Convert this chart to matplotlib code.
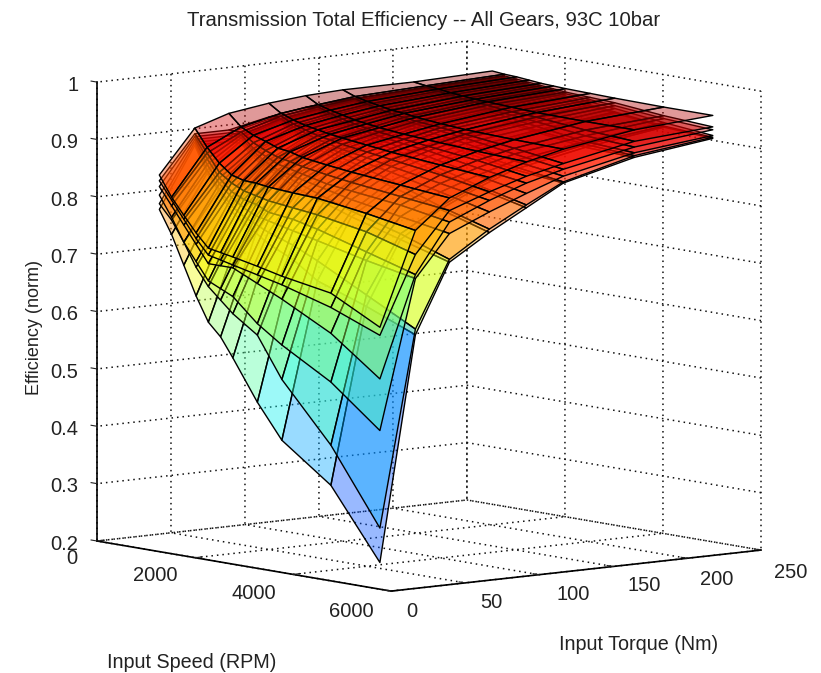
import numpy as np
import matplotlib
matplotlib.use('Agg')
import matplotlib.pyplot as plt
from mpl_toolkits.mplot3d import proj3d

speeds = [1000, 1250, 1500, 1750, 2000, 2250, 2500, 3000, 3500, 4500, 5500]
torques = [9, 33, 56, 83, 108, 133, 181, 234]
speed_ticks = [0, 2000, 4000, 6000]
torque_ticks = [0, 50, 100, 150, 200, 250]
eff_ticks = [0.2, 0.3, 0.4, 0.5, 0.6, 0.7, 0.8, 0.9, 1.0]
eff_labels = ['0.2', '0.3', '0.4', '0.5', '0.6', '0.7', '0.8', '0.9', '1']

# one row per torque, one column per speed
gear_a = [[.790, .75, .70, .65, .608, .586, .553, .483, .424, .36, .24],
          [.895, .85, .82, .79, .775, .76, .745, .725, .695, .665, .63],
          [.895, .895, .875, .86, .85, .84, .83, .815, .80, .775, .75],
          [.915, .922, .908, .898, .89, .88, .872, .86, .845, .82, .794],
          [.925, .932, .922, .912, .905, .898, .892, .882, .87, .85, .83],
          [.932, .94, .932, .925, .92, .914, .908, .90, .89, .875, .866],
          [.940, .948, .943, .938, .933, .929, .925, .918, .912, .90, .897],
          [.945, .953, .951, .948, .945, .942, .939, .934, .93, .92, .915]]
gear_b = [[.800, .775, .74, .70, .67, .65, .63, .60, .53, .43, .30],
          [.900, .855, .825, .80, .785, .775, .765, .75, .73, .685, .64],
          [.900, .90, .88, .865, .855, .848, .84, .825, .81, .785, .755],
          [.918, .925, .912, .902, .895, .888, .88, .868, .855, .825, .80],
          [.928, .935, .925, .916, .91, .904, .898, .888, .878, .855, .835],
          [.935, .942, .935, .928, .922, .918, .913, .905, .896, .88, .868],
          [.942, .95, .945, .94, .936, .932, .928, .922, .915, .905, .90],
          [.947, .954, .952, .949, .947, .944, .941, .937, .932, .922, .917]]
gear_c = [[.815, .78, .74, .71, .68, .67, .66, .62, .59, .54, .47],
          [.905, .865, .835, .815, .80, .79, .785, .775, .765, .745, .728],
          [.905, .905, .885, .87, .86, .855, .85, .84, .83, .815, .80],
          [.922, .928, .915, .906, .90, .893, .888, .878, .87, .85, .83],
          [.932, .938, .928, .92, .914, .91, .905, .897, .89, .872, .855],
          [.938, .945, .938, .932, .927, .923, .919, .912, .906, .89, .878],
          [.944, .952, .948, .944, .94, .937, .934, .928, .922, .91, .905],
          [.949, .957, .955, .952, .95, .948, .945, .942, .938, .928, .92]]
gear_d = [[.830, .80, .77, .74, .71, .71, .71, .69, .67, .625, .56],
          [.910, .875, .845, .825, .815, .81, .80, .795, .785, .76, .735],
          [.910, .91, .89, .88, .87, .865, .86, .85, .845, .835, .82],
          [.926, .93, .92, .912, .905, .90, .895, .888, .88, .865, .85],
          [.936, .94, .932, .925, .92, .915, .911, .905, .90, .885, .873],
          [.941, .948, .942, .936, .932, .928, .925, .92, .915, .902, .89],
          [.946, .955, .951, .947, .944, .941, .938, .934, .93, .92, .915],
          [.951, .959, .957, .955, .953, .951, .949, .946, .943, .935, .93]]
gear_e = [[.84, .81, .78, .75, .725, .72, .715, .705, .695, .67, .636],
          [.915, .885, .855, .84, .83, .825, .82, .815, .81, .795, .77],
          [.915, .915, .90, .89, .882, .878, .873, .866, .86, .85, .84],
          [.93, .935, .925, .918, .912, .908, .904, .898, .892, .88, .865],
          [.94, .944, .936, .93, .925, .921, .918, .913, .908, .898, .885],
          [.945, .951, .945, .94, .936, .933, .93, .926, .922, .912, .90],
          [.95, .957, .954, .951, .948, .946, .944, .94, .938, .93, .925],
          [.955, .962, .96, .958, .956, .954, .952, .95, .948, .94, .935]]
gear_f = [[.85, .815, .787, .76, .737, .733, .729, .72, .71, .695, .65],
          [.925, .895, .871, .854, .848, .847, .844, .841, .839, .827, .812],
          [.944, .924, .913, .906, .898, .895, .889, .883, .878, .870, .862],
          [.954, .94, .932, .926, .922, .918, .915, .91, .905, .897, .89],
          [.96, .948, .942, .937, .932, .929, .926, .922, .919, .914, .91],
          [.963, .955, .95, .946, .942, .94, .937, .933, .93, .927, .925],
          [.963, .96, .958, .955, .953, .951, .95, .948, .946, .945, .945],
          [.967, .965, .964, .962, .96, .959, .958, .957, .956, .955, .955]]
gears = [gear_a, gear_b, gear_c, gear_d, gear_e, gear_f]

plt.rcParams['font.family'] = ['Liberation Sans', 'DejaVu Sans']
plt.rcParams['font.size'] = 13
plt.rcParams['grid.color'] = '#111111'
plt.rcParams['grid.linestyle'] = (0, (1, 2.6))
plt.rcParams['grid.linewidth'] = 1.1

W, H = 821, 673
fig = plt.figure(figsize=(W / 100, H / 100), dpi=100)
ax = fig.add_subplot(projection='3d', computed_zorder=False, proj_type='ortho')
ax.view_init(elev=7.9, azim=-38.9)
ax.set_box_aspect((468, 475, 463))
ax.set_xlim(0, 6000, view_margin=0)
ax.set_ylim(0, 250, view_margin=0)
ax.set_zlim(0.2, 1, view_margin=0)

X, Y = np.meshgrid(speeds, torques, indexing='ij')
norm = plt.Normalize(0.2, 0.98)
alpha = 0.40
for g in gears:
    Z = np.array(g).T
    fc = plt.cm.jet(norm(Z))
    fc[..., 3] = alpha
    ax.plot_surface(X, Y, Z, rstride=1, cstride=1, facecolors=fc, shade=False,
                    edgecolor='black', linewidth=1.0, antialiased=True)

ax.set_xticks(speed_ticks)
ax.set_yticks(torque_ticks)
ax.set_zticks(eff_ticks)
ax.set_zticklabels(eff_labels)

for axis in (ax.xaxis, ax.yaxis, ax.zaxis):
    axis.set_pane_color((1, 1, 1, 1))
    axis.pane.set_edgecolor((1, 1, 1, 0))
    axis.line.set_color('black')
    axis.line.set_linewidth(1.2)
    axis._axinfo['tick']['outward_factor'] = 0.25
    axis._axinfo['tick']['inward_factor'] = 0.0
    axis.set_rotate_label(False)
ax.zaxis._axinfo['juggled'] = (1, 2, 0)
ax.tick_params(axis='both', colors='#222222', labelsize=14.5, pad=2)

ax.set_xlabel('Input Speed (RPM)', fontsize=14.2, labelpad=22, color='#222222')
ax.set_ylabel('Input Torque (Nm)', fontsize=14.2, labelpad=22, color='#222222')
ax.set_zlabel('Efficiency (norm)', fontsize=13, rotation=90, labelpad=12, color='#222222')


def nudge(text, dx, dy):
    """Shift a text that mplot3d repositions at draw time, by display pixels."""
    orig = text.set_position

    def set_position(xy):
        p = ax.transData.transform(xy) + np.array([dx, dy])
        orig(ax.transData.inverted().transform(p))
    text.set_position = set_position


speed_nudges = [(-13, 9), (-27, 9), (-27, 7), (-27, 6)]
torque_nudges = [(11, 6), (16, 7), (24, 7), (21, 8), (20, 5), (20, 4)]
for t, d in zip(ax.xaxis.get_major_ticks(), speed_nudges):
    nudge(t.label1, *d)
for t, d in zip(ax.yaxis.get_major_ticks(), torque_nudges):
    nudge(t.label1, *d)
for t in ax.zaxis.get_major_ticks():
    t.label1.set_ha('right')
    nudge(t.label1, 4, 6)
nudge(ax.xaxis.label, 1, -24)
nudge(ax.yaxis.label, 20, 0)
nudge(ax.zaxis.label, 12, -17)


def px(x, y, z):
    u, v, _ = proj3d.proj_transform(x, y, z, ax.get_proj())
    return ax.transData.transform((u, v))


# fit the square 3D axes so the box corners land where the reference has them
S = 500.0
L0, B0 = 100.0, 100.0
ax.set_position([L0 / W, B0 / H, S / W, S / H])
fig.canvas.draw()
A = px(0, 0, 0.2)
C = px(6000, 250, 0.2)
scale = (761 - 97) / (C[0] - A[0])
S *= scale
ax.set_position([L0 / W, B0 / H, S / W, S / H])
fig.canvas.draw()
A = px(0, 0, 0.2)
L0 += 97 - A[0]
B0 += (H - 541) - A[1]
ax.set_position([L0 / W, B0 / H, S / W, S / H])

# apply_aspect keeps the axes box inside what was asked, so read where it really is
fig.canvas.draw()
bb = ax.get_window_extent()
title = ax.set_title('Transmission Total Efficiency -- All Gears, 93C 10bar', fontsize=14.6,
                     color='#222222', va='center')
title.set_transform(fig.transFigure)
title.set_position((424 / W, (H - 21) / H))
ax._autotitlepos = False
ax._update_title_position = lambda renderer: None

fig.savefig('out.png', dpi=100)
